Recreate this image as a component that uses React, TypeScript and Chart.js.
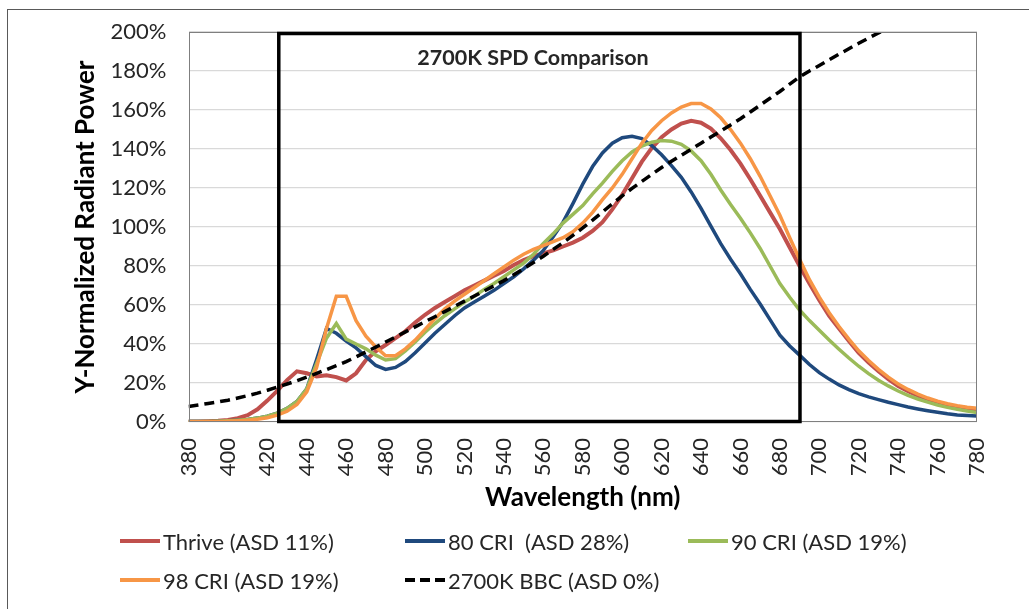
import React, { useEffect, useRef } from "react";
import { Chart, registerables } from "chart.js";

Chart.register(...registerables);

const wavelengths = [
  380, 385, 390, 395, 400, 405, 410, 415, 420, 425, 430, 435, 440, 445, 450, 455, 460, 465, 470, 475,
  480, 485, 490, 495, 500, 505, 510, 515, 520, 525, 530, 535, 540, 545, 550, 555, 560, 565, 570, 575,
  580, 585, 590, 595, 600, 605, 610, 615, 620, 625, 630, 635, 640, 645, 650, 655, 660, 665, 670, 675,
  680, 685, 690, 695, 700, 705, 710, 715, 720, 725, 730, 735, 740, 745, 750, 755, 760, 765, 770, 775, 780,
];

const thrive = [
  0.3, 0.3, 0.4, 0.6, 1.0, 2.0, 3.5, 6.5, 11, 16, 21.5, 26, 25, 23.3, 24, 23, 21.3, 25, 31.8, 36.3,
  39.5, 43, 46.5, 51, 55, 58.5, 61.5, 64.5, 67.5, 70, 72.5, 75, 77.5, 80.5, 83, 85, 86.5, 88, 90, 92,
  94.5, 98, 102.5, 109, 116.5, 125, 133.5, 140.5, 146, 150, 153, 154.5, 153.5, 150.5, 145.5, 139.5, 132.5, 124.5, 116, 107.5,
  99, 89.5, 80, 71, 62.5, 54.5, 48, 41.5, 35.5, 30.5, 26, 22, 18.5, 15.8, 13.5, 11.6, 10, 8.8, 7.8, 7.1, 6.5,
];

const cri80 = [
  0.2, 0.2, 0.3, 0.4, 0.6, 0.9, 1.3, 2, 3, 4.5, 7, 10.5, 17, 32, 48, 45.5, 41.5, 38, 33.5, 29,
  27, 28, 31, 35.5, 40.5, 45.5, 50, 54.5, 58.5, 61.5, 64.5, 67.5, 71, 74.5, 78.5, 83, 88, 95, 102.5, 112,
  122, 131, 138, 143, 145.8, 146.5, 145.3, 141.8, 137, 131.5, 125.5, 118, 109.5, 100.5, 91.5, 83.5, 76, 68, 60.5, 52.5,
  44.5, 39, 34.3, 29.5, 25.3, 22, 19, 16.6, 14.5, 12.9, 11.5, 10.1, 8.9, 7.7, 6.7, 5.8, 5, 4.2, 3.6, 3.3, 3.1,
];

const cri90 = [
  0.2, 0.2, 0.3, 0.4, 0.6, 0.9, 1.3, 2, 3, 4.5, 7, 10.5, 17, 30, 43, 50.5, 42.5, 40, 37.5, 34.3,
  31.8, 32.5, 36.5, 41, 46, 50.5, 54.5, 58, 61.5, 64.5, 68, 71, 74.5, 78, 81.5, 86, 91.5, 96.5, 102, 106.5,
  111, 117, 122.5, 128.5, 134, 138.5, 141.5, 143.5, 144.3, 144, 142.4, 139, 134, 127, 119, 111.5, 104.5, 97, 89, 80,
  71, 64, 57.4, 52, 47, 42, 37.3, 32.8, 28.6, 24.8, 21.4, 18.5, 15.9, 13.7, 11.8, 10.2, 8.7, 7.5, 6.5, 5.6, 4.8,
];

const cri98 = [
  0.1, 0.1, 0.2, 0.3, 0.4, 0.6, 0.9, 1.4, 2.2, 3.5, 5.5, 9, 15.5, 28, 48, 64.5, 64.5, 52, 44, 38.5,
  34, 34, 37.5, 42, 47.5, 53, 58, 62, 65.5, 69, 72.5, 76, 79.5, 83, 86, 88.5, 90.5, 92.5, 94.5, 97.5,
  102, 107.5, 114, 120, 127, 135, 143, 149.5, 154.5, 158.5, 161.5, 163.3, 163.3, 160.5, 156, 150, 143, 135, 126, 116,
  106, 94.5, 83.5, 73, 64, 56, 49, 42.5, 36.5, 31.5, 27, 23, 19.5, 16.7, 14.3, 12.3, 10.7, 9.4, 8.4, 7.6, 7,
];

const bbc2700 = [
  8, 8.7, 9.5, 10.3, 11.2, 12.3, 13.5, 14.8, 16.3, 17.9, 19.5, 21.2, 23, 24.9, 26.9, 28.9, 31, 33.4, 35.9, 38.4,
  41, 43.6, 46.2, 48.8, 51.5, 54, 56.6, 59.3, 62, 64.6, 67.2, 69.8, 72.5, 75.5, 78.6, 81.8, 85, 88.5, 92, 95.7,
  99.5, 103.5, 107.7, 111.9, 116, 119.8, 123.4, 127, 130.5, 133.7, 136.8, 139.9, 143, 146.1, 149.2, 152.3, 155.5, 159, 162.5, 166,
  169.5, 173.3, 177, 180, 182.8, 185.7, 188.6, 191.4, 194.2, 196.9, 199.5, 202, 204.4, 206.7, 209, 211.2, 213.3, 215.3, 217.3, 219.2, 221,
];

const seriesLabels = [
  "Thrive (ASD 11%)",
  "80 CRI  (ASD 28%)",
  "90 CRI (ASD 19%)",
  "98 CRI (ASD 19%)",
  "2700K BBC (ASD 0%)",
];
const seriesColors = ["#C0504D", "#1F497D", "#9BBB59", "#F79646", "#000000"];
const seriesValues = [thrive, cri80, cri90, cri98, bbc2700];

const chartTitle = "2700K SPD Comparison";
const xTitle = "Wavelength (nm)";
const yTitle = "Y-Normalized Radiant Power";
const highlightRange = [425.8, 690.2];

const FONT = "Lato, 'Open Sans', sans-serif";

const overlayPlugin = {
  id: "overlay",
  afterDatasetsDraw(chart: any) {
    const { ctx, chartArea, scales } = chart;
    const x = scales.x;
    const y = scales.y;
    ctx.save();
    ctx.strokeStyle = "#7F7F7F";
    ctx.lineWidth = 1;
    ctx.strokeRect(
      Math.round(chartArea.left) + 0.5,
      Math.round(chartArea.top) + 0.5,
      Math.round(chartArea.right) - Math.round(chartArea.left) - 1,
      Math.round(chartArea.bottom) - Math.round(chartArea.top) - 1
    );
    const l = x.getPixelForValue(highlightRange[0]);
    const r = x.getPixelForValue(highlightRange[1]);
    const t = y.getPixelForValue(200);
    const b = y.getPixelForValue(0);
    ctx.strokeStyle = "#000000";
    ctx.lineWidth = 3.5;
    ctx.strokeRect(l, t + 1.5, r - l, b - t - 2);
    ctx.fillStyle = "#262626";
    ctx.font = "bold 21.5px " + FONT;
    ctx.textAlign = "center";
    ctx.textBaseline = "middle";
    ctx.fillText(chartTitle, 533, 58);
    ctx.restore();
  },
};

export default function App() {
  const canvasRef = useRef<HTMLCanvasElement | null>(null);

  useEffect(() => {
    if (!canvasRef.current) return;
    const datasets = seriesLabels.map((label, i) => ({
      label,
      data: wavelengths.map((w, k) => ({ x: w, y: seriesValues[i][k] })),
      borderColor: seriesColors[i],
      backgroundColor: seriesColors[i],
      borderWidth: i === 0 ? 4 : 3.5,
      borderDash: i === 4 ? [10, 6] : [],
      pointRadius: 0,
      tension: 0,
      fill: false,
      order: 5 - i,
    }));
    const chart = new Chart(canvasRef.current, {
      type: "line",
      data: { datasets },
      plugins: [overlayPlugin],
      options: {
        animation: false,
        responsive: false,
        devicePixelRatio: 1,
        events: [],
        layout: { padding: { left: 0, top: 32, right: 52, bottom: 87 } },
        plugins: {
          legend: { display: false },
          title: { display: false },
          tooltip: { enabled: false },
        },
        scales: {
          x: {
            type: "linear",
            min: 380,
            max: 780,
            afterFit: (s: any) => {
              s.height = 100;
            },
            border: { display: false },
            grid: { display: false, drawTicks: false },
            ticks: {
              stepSize: 20,
              autoSkip: false,
              maxRotation: 90,
              minRotation: 90,
              padding: 16,
              color: "#262626",
              font: { family: FONT, size: 22 },
              callback: (v: any) => String(v),
            },
            title: {
              display: true,
              text: xTitle,
              color: "#000000",
              font: { family: FONT, size: 26, weight: "bold" },
              padding: { top: 0, bottom: 9 },
            },
          },
          y: {
            min: 0,
            max: 200,
            afterFit: (s: any) => {
              s.width = 188.5;
              s.paddingTop = 0;
              s.paddingBottom = 0;
            },
            border: { display: false },
            grid: { color: "#D9D9D9", lineWidth: 1.3, drawTicks: false },
            ticks: {
              stepSize: 20,
              padding: 22,
              color: "#262626",
              font: { family: FONT, size: 22 },
              callback: (v: any) => v + "%",
            },
            title: {
              display: true,
              text: yTitle,
              color: "#000000",
              font: { family: FONT, size: 26, weight: "bold" },
              padding: { top: 70, bottom: 0 },
            },
          },
        },
      },
    });
    return () => chart.destroy();
  }, []);

  const legendPos = [
    { left: 120, top: 541 },
    { left: 405, top: 541 },
    { left: 688, top: 541 },
    { left: 120, top: 580 },
    { left: 405, top: 580 },
  ];

  return (
    <div
      style={{
        position: "fixed",
        left: 0,
        top: 0,
        width: 1029,
        height: 609,
        overflow: "hidden",
        background: "#ffffff",
      }}
    >
      <div
        style={{
          position: "absolute",
          left: 7,
          top: 9,
          width: 1200,
          height: 800,
          border: "1px solid #595959",
        }}
      />
      <canvas
        ref={canvasRef}
        width={1029}
        height={609}
        style={{ position: "absolute", left: 0, top: 0, width: 1029, height: 609 }}
      />
      {seriesLabels.map((label, i) => (
        <div
          key={label}
          style={{
            position: "absolute",
            left: legendPos[i].left,
            top: legendPos[i].top - 15,
            height: 30,
            display: "flex",
            alignItems: "center",
            whiteSpace: "pre",
            fontFamily: FONT,
            fontSize: 22,
            color: "#262626",
          }}
        >
          <svg width={40} height={6} style={{ marginRight: 3 }}>
            <line
              x1={0}
              y1={3}
              x2={40}
              y2={3}
              stroke={seriesColors[i]}
              strokeWidth={4}
              strokeDasharray={i === 4 ? "10 5" : undefined}
            />
          </svg>
          <span>{label}</span>
        </div>
      ))}
    </div>
  );
}
